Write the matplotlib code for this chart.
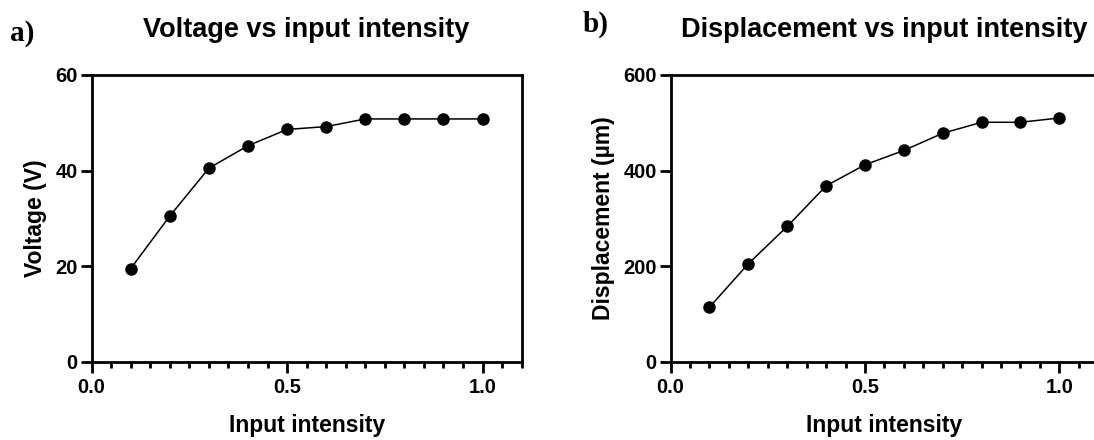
import numpy as np
import matplotlib.pyplot as plt

# input intensity steps shared by both panels
intensity = [0.1, 0.2, 0.3, 0.4, 0.5, 0.6, 0.7, 0.8, 0.9, 1.0]
voltage = [19.5, 30.5, 40.5, 45.2, 48.6, 49.2, 50.8, 50.8, 50.8, 50.8]          # V
displacement = [114, 205, 283, 368, 412, 442, 478, 501, 501, 510]               # um

plt.rcParams['font.family'] = ['Liberation Sans', 'DejaVu Sans']
plt.rcParams['font.weight'] = 'bold'

fig = plt.figure(figsize=(10.94, 4.4), dpi=100)
ax1 = fig.add_axes([0.0838, 0.178, 0.393, 0.6516])
ax2 = fig.add_axes([0.613, 0.178, 0.3908, 0.6516])


def style(ax, y, ymax, yticks):
    ax.plot(intensity, y, color='black', lw=1.1, marker='o',
            markersize=8, markerfacecolor='black', markeredgecolor='black',
            clip_on=False)
    ax.set_xlim(0, 1.1)
    ax.set_ylim(0, ymax)
    ax.set_xticks([0.0, 0.5, 1.0])
    ax.set_xticklabels(['0.0', '0.5', '1.0'])
    ax.set_xticks(np.arange(0, 1.101, 0.05), minor=True)
    ax.set_yticks(yticks)
    for s in ax.spines.values():
        s.set_linewidth(2)
    ax.tick_params(axis='both', which='major', length=8, width=2, labelsize=14.5)
    ax.tick_params(axis='x', which='minor', length=4.5, width=2)
    ax.tick_params(axis='x', which='major', pad=4)
    ax.tick_params(axis='y', which='major', pad=2)
    for lab in ax.get_xticklabels() + ax.get_yticklabels():
        lab.set_fontweight('bold')
    ax.set_xlabel('Input intensity', fontsize=16.5, fontweight='bold', labelpad=12)


style(ax1, voltage, 60, [0, 20, 40, 60])
ax1.set_ylabel('Voltage (V)', fontsize=16.5, fontweight='bold', labelpad=6)
ax1.set_title('Voltage vs input intensity', fontsize=19.5, fontweight='bold', pad=27)

style(ax2, displacement, 600, [0, 200, 400, 600])
ax2.set_ylabel('Displacement (µm)', fontsize=16.5, fontweight='bold', labelpad=6)
ax2.set_title('Displacement vs input intensity', fontsize=19.5, fontweight='bold', pad=27)

fig.text(0.009, 1 - 41 / 440, 'a)', family='Liberation Serif', fontsize=21,
         fontweight='bold', va='baseline')
fig.text(0.533, 1 - 32 / 440, 'b)', family='Liberation Serif', fontsize=21,
         fontweight='bold', va='baseline')

fig.savefig('out.png', dpi=100)
